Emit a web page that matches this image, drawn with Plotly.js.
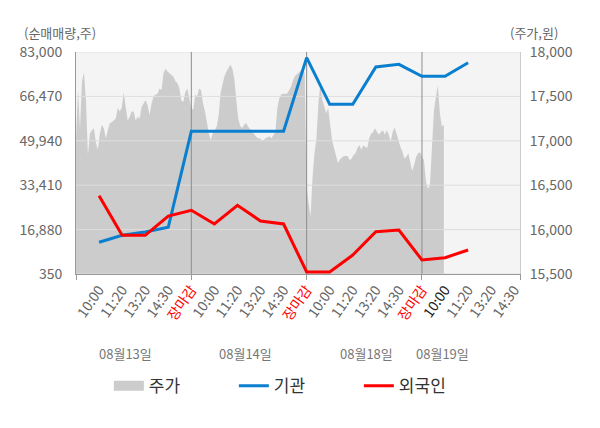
<!DOCTYPE html>
<html>
<head>
<meta charset="utf-8">
<script src="https://cdn.plot.ly/plotly-3.0.1.min.js"></script>
<style>
  html, body { margin: 0; padding: 0; background: #fff; }
  #chart { width: 600px; height: 428px; }
</style>
</head>
<body>
<div id="chart"></div>
<script>
// ── Data ──────────────────────────────────────────────────────────────────────
const timeLabels = ['10:00', '11:20', '13:20', '14:30', '장마감',
                    '10:00', '11:20', '13:20', '14:30', '장마감',
                    '10:00', '11:20', '13:20', '14:30', '장마감',
                    '10:00', '11:20', '13:20', '14:30'];
const currentLabel = 15;               // index of the "now" tick (dark)
const dayLabels    = ['08월13일', '08월14일', '08월18일', '08월19일'];
const dayLabelPos  = [2.15, 7.35, 12.6, 15.9];

// 순매매량 (주), one value per time label
const institution = [12150, 14760, 15990, 17740, 53480, 53480, 53480, 53480, 53480,
                     80890, 63520, 63520, 77420, 78420, 73950, 73950, 79020];
const foreign     = [29500, 14760, 14760, 21940, 24060, 18970, 25920, 20080, 18970,
                     1100, 1100, 7420, 16100, 16730, 5560, 6420, 9290];

// 주가 (원), intraday per day
const priceDay1 = [17030, 17570, 17130, 17670, 17770, 17460, 16840, 17080, 17120, 17140,
                   16980, 16900, 17080, 17180, 17140, 17030, 17120, 17200, 17210, 17230,
                   17250, 17370, 17330, 17370, 17550, 17380, 17230, 17270, 17330, 17330,
                   17230, 17270, 17250, 17380, 17430, 17460, 17400, 17290, 17420, 17500,
                   17520, 17530, 17590, 17570, 17760, 17810, 17780, 17760, 17740, 17720,
                   17670, 17650, 17590, 17450, 17440, 17550, 17590];
const priceDay2 = [17370, 17350, 17520, 17500, 17590, 17570, 17420, 17330, 17210, 17080,
                   17010, 17090, 17120, 17160, 17290, 17540, 17640, 17730, 17780, 17830,
                   17860, 17810, 17700, 17460, 17250, 17170, 17140, 17180, 17200, 17160,
                   17130, 17100, 17080, 17050, 17030, 17030, 17010, 17010, 17030, 17040,
                   17050, 17030, 17070, 17100, 17370, 17480, 17520, 17530, 17530, 17530,
                   17570, 17610, 17680, 17730, 17750, 17770, 17800, 17810, 17760];
const priceDay3 = [16480, 16300, 16150, 16580, 16860, 17020, 17420, 17640, 17460, 17390,
                   17310, 17370, 17200, 17010, 16920, 16820, 16750, 16790, 16810, 16830,
                   16830, 16830, 16780, 16800, 16840, 16860, 16920, 16950, 16900, 16950,
                   16930, 16920, 17030, 17080, 17100, 17140, 17100, 17070, 17100, 17120,
                   17070, 17120, 17070, 16990, 17100, 17150, 17080, 16990, 16930, 16880,
                   16800, 16820, 16860, 16760, 16660, 16730, 16820, 16860, 16870];
const priceDay4 = [16820, 16780, 16540, 16460, 16500, 16920, 17330, 17500, 17620, 17310,
                   17160, 17180];

const volTicks   = [350, 16880, 33410, 49940, 66470, 83000];
const priceTicks = [15500, 16000, 16500, 17000, 17500, 18000];

// ── Helpers ───────────────────────────────────────────────────────────────────
const FONT      = '"Noto Sans CJK KR", "Noto Sans", sans-serif';
const DAY_SLOTS = 5;
const X_MAX     = 19.25;
const BLUE      = '#0a7fcf';
const RED       = '#ff0000';

const tickPos = timeLabels.map((_, i) => i + 1);
const tickText = timeLabels.map((t, i) => {
  if (t === '장마감') return `<span style="color:${RED}">${t}</span>`;
  if (i === currentLabel) return `<span style="color:#222">${t}</span>`;
  return t;
});
const closePos = [1, 2, 3].map(d => d * DAY_SLOTS);

const areaX = [], areaY = [];
[priceDay1, priceDay2, priceDay3, priceDay4].forEach((vals, d) => {
  const step = DAY_SLOTS / Math.max(vals.length, 58);
  vals.forEach((v, i) => { areaX.push(d * DAY_SLOTS + i * step); areaY.push(v); });
});

// grid + close separators drawn as traces so they sit above the price area
const gridX = [], gridY = [];
priceTicks.forEach(p => { gridX.push(0, X_MAX, null); gridY.push(p, p, null); });
const sepX = [], sepY = [];
closePos.forEach(x => { sepX.push(x, x, null); sepY.push(priceTicks[0], priceTicks[priceTicks.length - 1], null); });

// ── Traces ────────────────────────────────────────────────────────────────────
const traces = [
  { type: 'scatter', mode: 'lines', x: areaX, y: areaY, xaxis: 'x', yaxis: 'y',
    fill: 'tozeroy', fillcolor: '#cccccc', line: { width: 0, color: '#cccccc' },
    showlegend: false, hoverinfo: 'skip' },
  { type: 'scatter', mode: 'lines', x: gridX, y: gridY, xaxis: 'x', yaxis: 'y',
    line: { width: 1, color: '#dedede' }, showlegend: false, hoverinfo: 'skip' },
  { type: 'scatter', mode: 'lines', x: sepX, y: sepY, xaxis: 'x', yaxis: 'y',
    line: { width: 1, color: '#8c8c8c' }, showlegend: false, hoverinfo: 'skip' },
  { type: 'scatter', mode: 'lines', x: [null], y: [null], xaxis: 'x', yaxis: 'y',
    name: '주가', line: { width: 12, color: '#cccccc' } },
  { type: 'scatter', mode: 'lines', name: '기관', xaxis: 'x2', yaxis: 'y2',
    x: tickPos.slice(0, institution.length), y: institution,
    line: { width: 3, color: BLUE } },
  { type: 'scatter', mode: 'lines', name: '외국인', xaxis: 'x2', yaxis: 'y2',
    x: tickPos.slice(0, foreign.length), y: foreign,
    line: { width: 3, color: RED } },
];

// ── Layout ────────────────────────────────────────────────────────────────────
const annotations = dayLabels.map((t, i) => ({
  text: t, xref: 'x', yref: 'paper', x: dayLabelPos[i], y: -0.356, yanchor: 'middle',
  showarrow: false, font: { size: 13, color: '#777' },
}));
annotations.push(
  { text: '(순매매량,주)', xref: 'paper', yref: 'paper', x: -0.122, y: 1.086,
    xanchor: 'left', yanchor: 'middle', showarrow: false, font: { size: 13, color: '#666' } },
  { text: '(주가,원)', xref: 'paper', yref: 'paper', x: 0.973, y: 1.086,
    xanchor: 'left', yanchor: 'middle', showarrow: false, font: { size: 13, color: '#666' } },
);

const layout = {
  width: 600, height: 428,
  margin: { l: 76, r: 80, t: 52, b: 154 },
  paper_bgcolor: '#ffffff', plot_bgcolor: '#f4f4f4',
  font: { family: FONT, size: 14, color: '#666' },
  showlegend: true,
  legend: { orientation: 'h', x: 0.074, xanchor: 'left', y: -0.505, yanchor: 'middle',
            font: { size: 17, color: '#333' }, entrywidth: 80, entrywidthmode: 'pixels',
            bgcolor: 'rgba(0,0,0,0)' },
  xaxis: { range: [0, X_MAX], tickvals: closePos.concat([0, X_MAX]), ticks: 'outside',
           ticklen: 5, tickcolor: '#999', showticklabels: false, showgrid: false,
           zeroline: false, showline: true, linecolor: '#999', fixedrange: true },
  xaxis2: { overlaying: 'x', anchor: 'y2', range: [0, X_MAX], tickvals: tickPos,
            ticktext: tickText, ticks: '', tickangle: -55, showgrid: false, zeroline: false,
            ticklabelstandoff: 4, tickfont: { size: 14, color: '#666' }, fixedrange: true },
  yaxis: { side: 'right', range: [priceTicks[0], priceTicks[priceTicks.length - 1]],
           tickvals: priceTicks, tickformat: ',d', showgrid: false, zeroline: false,
           showline: true, linecolor: '#cccccc', ticks: '', ticklabelstandoff: 6,
           tickfont: { size: 14, color: '#666' }, fixedrange: true },
  yaxis2: { overlaying: 'y', side: 'left', anchor: 'x2',
            range: [volTicks[0], volTicks[volTicks.length - 1]], tickvals: volTicks,
            tickformat: ',d', showgrid: false, zeroline: false, showline: true,
            linecolor: '#999', ticks: '', ticklabelstandoff: 10,
            tickfont: { size: 14, color: '#666' }, fixedrange: true },
  annotations,
};

Plotly.newPlot('chart', traces, layout, { displayModeBar: false, staticPlot: true });
</script>
</body>
</html>
